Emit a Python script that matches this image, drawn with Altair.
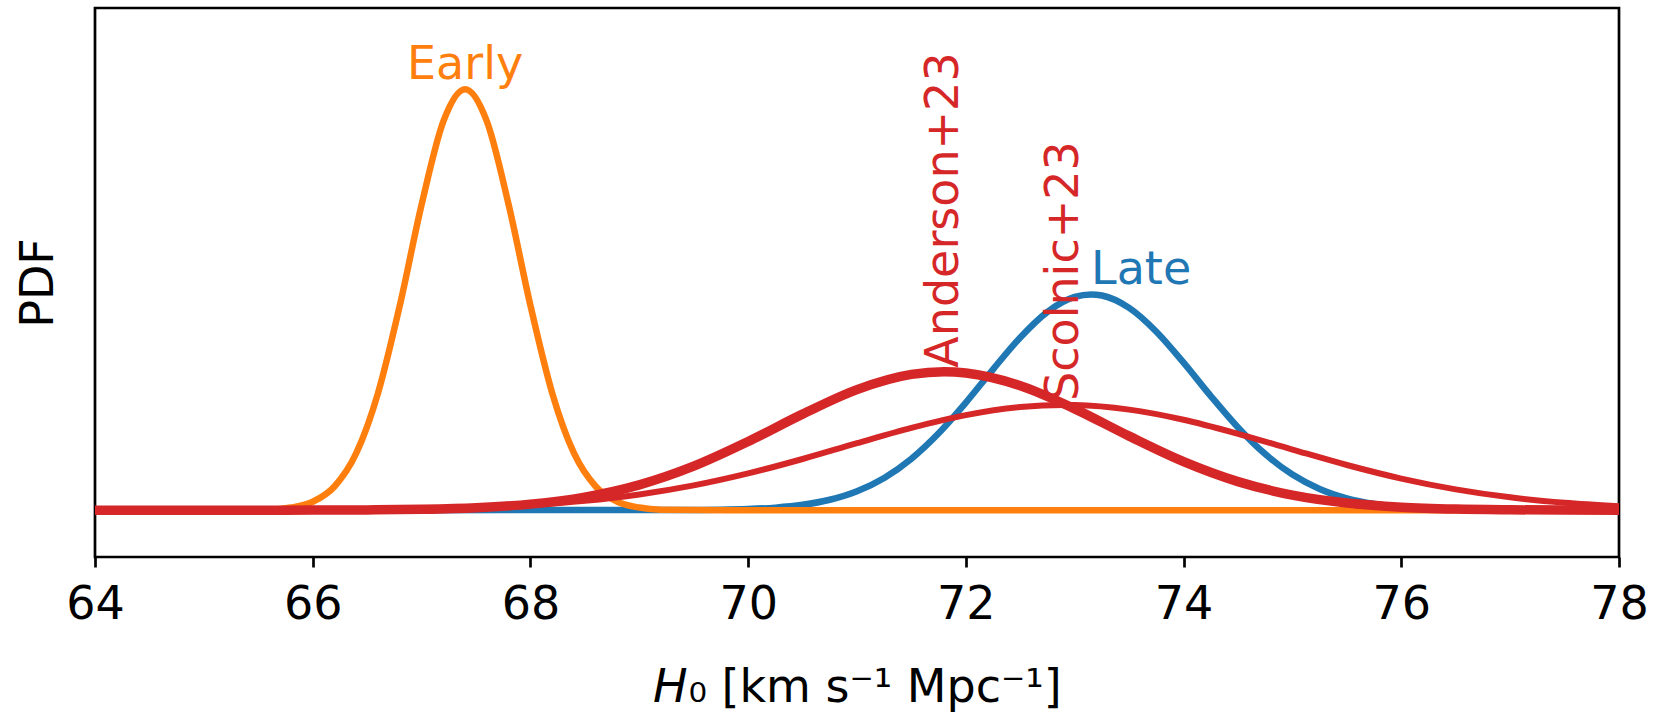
import altair as alt
import pandas as pd

# ---------------- data ----------------
x_domain = [64, 78]
x_ticks = [64, 66, 68, 70, 72, 74, 76, 78]
y_domain = [-0.0887, 0.952]

early_x = [64.0, 65.0, 65.6, 65.8, 66.0, 66.2, 66.4, 66.6, 66.8, 67.0, 67.2, 67.4,
           67.6, 67.8, 68.0, 68.2, 68.4, 68.6, 68.8, 69.0, 69.2, 70.0, 78.0]
early_y = [0.0, 0.0, 0.001, 0.005, 0.016, 0.045, 0.108, 0.222, 0.388, 0.579, 0.737, 0.798,
           0.737, 0.579, 0.388, 0.222, 0.108, 0.045, 0.016, 0.005, 0.001, 0.0, 0.0]

late_x = [64.0, 69.5, 69.75, 70.0, 70.25, 70.5, 70.75, 71.0, 71.25, 71.5, 71.75, 72.0,
          72.25, 72.5, 72.75, 73.0, 73.15, 73.25, 73.5, 73.75, 74.0, 74.25, 74.5, 74.75,
          75.0, 75.25, 75.5, 75.75, 76.0, 76.25, 76.5, 76.75, 77.0, 78.0]
late_y = [0.0, 0.0004, 0.0009, 0.0022, 0.0049, 0.0102, 0.0198, 0.0360, 0.0612, 0.0977,
          0.1459, 0.2040, 0.2671, 0.3275, 0.3760, 0.4042, 0.4090, 0.4069, 0.3835, 0.3384,
          0.2797, 0.2164, 0.1569, 0.1064, 0.0676, 0.0402, 0.0224, 0.0117, 0.0057, 0.0026,
          0.0011, 0.0004, 0.0002, 0.0]

anderson_x = [64.0, 65.0, 65.5, 66.0, 66.5, 67.0, 67.5, 68.0, 68.5, 69.0, 69.5, 70.0,
              70.5, 71.0, 71.5, 71.8, 72.0, 72.5, 73.0, 73.5, 74.0, 74.5, 75.0, 75.5,
              76.0, 76.5, 77.0, 77.5, 78.0]
anderson_y = [0.0, 0.0, 0.00005, 0.0002, 0.0006, 0.0018, 0.0048, 0.0115, 0.0249, 0.0481,
              0.0835, 0.1302, 0.1821, 0.2286, 0.2574, 0.2625, 0.2602, 0.2361, 0.1922,
              0.1404, 0.0921, 0.0542, 0.0286, 0.0136, 0.0058, 0.0022, 0.0008, 0.0002, 0.0]

scolnic_x = [64.0, 64.5, 65.0, 65.5, 66.0, 66.5, 67.0, 67.5, 68.0, 68.5, 69.0, 69.5,
             70.0, 70.5, 71.0, 71.5, 72.0, 72.5, 72.9, 73.0, 73.5, 74.0, 74.5, 75.0,
             75.5, 76.0, 76.5, 77.0, 77.5, 78.0]
scolnic_y = [0.0, 0.00003, 0.0001, 0.0002, 0.0005, 0.0012, 0.0026, 0.0052, 0.0099, 0.0177,
             0.0298, 0.0470, 0.0697, 0.0971, 0.1271, 0.1561, 0.1803, 0.1956, 0.1995,
             0.1993, 0.1907, 0.1715, 0.1449, 0.1150, 0.0857, 0.0600, 0.0395, 0.0244,
             0.0142, 0.0077]

labels_flat = ["Early", "Late"]
labels_flat_x = [67.4, 73.15]
labels_flat_y = [0.798, 0.409]

labels_rot = ["Anderson+23", "Scolnic+23"]
labels_rot_x = [71.8, 72.9]
labels_rot_y = [0.2625, 0.1995]

ORANGE = "#ff7f0e"
BLUE = "#1f77b4"
RED = "#d62728"
FONT = "DejaVu Sans"
FS = 46

# ---------------- chart ----------------
xs = alt.Scale(domain=x_domain, nice=False, zero=False)
ys = alt.Scale(domain=y_domain, nice=False, zero=False)

x_enc = alt.X(
    "x:Q", scale=xs,
    axis=alt.Axis(
        values=x_ticks, format="d", grid=False, domain=False, labelFlush=False,
        tickColor="black", tickWidth=2.7, tickSize=10,
        labelFont=FONT, labelFontSize=FS, labelColor="black", labelPadding=15,
        title="\U0001D60F\u2080 [km s\u207B\u00B9 Mpc\u207B\u00B9]",
        titleFont=FONT, titleFontSize=FS, titleFontWeight="normal", titleColor="black",
        titleBaseline="alphabetic", titleY=144,
    ),
)
y_enc = alt.Y(
    "y:Q", scale=ys,
    axis=alt.Axis(
        labels=False, ticks=False, domain=False, grid=False, title="PDF",
        titleFont=FONT, titleFontSize=FS, titleFontWeight="normal", titleColor="black",
        titlePadding=33,
    ),
)


def curve(xv, yv, color, width):
    df = pd.DataFrame({"x": xv, "y": yv})
    return alt.Chart(df).mark_line(
        color=color, strokeWidth=width, interpolate="monotone", strokeCap="butt"
    ).encode(x=x_enc, y=y_enc)


late = curve(late_x, late_y, BLUE, 6.5)
early = curve(early_x, early_y, ORANGE, 6.5)
scolnic = curve(scolnic_x, scolnic_y, RED, 6.0)
anderson = curve(anderson_x, anderson_y, RED, 9.5)

flat_df = pd.DataFrame({"x": labels_flat_x, "y": labels_flat_y, "t": labels_flat})
early_txt = alt.Chart(flat_df.iloc[[0]]).mark_text(
    font=FONT, fontSize=FS, align="center", baseline="bottom", color=ORANGE
).encode(x=x_enc, y=y_enc, text="t:N")
late_txt = alt.Chart(flat_df.iloc[[1]]).mark_text(
    font=FONT, fontSize=FS, align="left", baseline="bottom", color=BLUE
).encode(x=x_enc, y=y_enc, text="t:N")

rot_df = pd.DataFrame({"x": labels_rot_x, "y": labels_rot_y, "t": labels_rot})
rot_txt = alt.Chart(rot_df).mark_text(
    font=FONT, fontSize=FS, align="left", baseline="middle", angle=270, dx=4, color=RED
).encode(x=x_enc, y=y_enc, text="t:N")

chart = alt.layer(late, early, scolnic, anderson, early_txt, late_txt, rot_txt).properties(
    width=1524, height=549,
    padding={"left": 95, "top": 8, "right": 35, "bottom": 156},
    autosize=alt.AutoSizeParams(type="none"),
    background="white",
).configure_view(
    stroke="black", strokeWidth=2.7
)

chart.save("out.html", embed_options={"renderer": "svg", "actions": False})
